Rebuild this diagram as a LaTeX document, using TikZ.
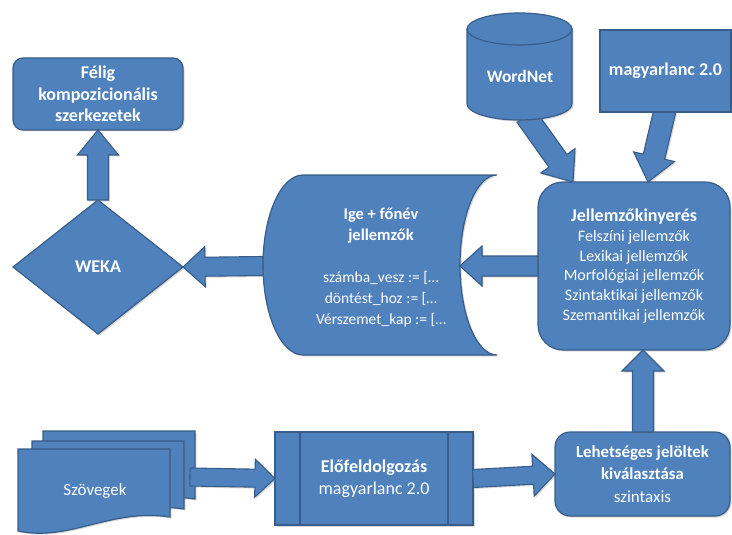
\documentclass[tikz,border=0pt]{standalone}
\usepackage{fontspec}
\setmainfont{Carlito}[Ligatures=NoCommon]
\usetikzlibrary{shapes.geometric,shadows,calc}
\definecolor{fillblue}{HTML}{4F81BD}
\definecolor{lineblue}{HTML}{385D8A}
\tikzset{
  shp/.style={fill=fillblue, draw=lineblue, line width=1.2pt,
    drop shadow={opacity=0.3, shadow xshift=1.5pt, shadow yshift=-1.5pt}},
  blk/.style={fill=fillblue, draw=lineblue, line width=1.1pt,
    drop shadow={opacity=0.3, shadow xshift=1.5pt, shadow yshift=-1.5pt}},
  txt/.style={text=white, align=center, font=\fontsize{15}{20}\selectfont},
  boxnode/.style={shp, txt, inner sep=0pt, outer sep=0pt},
}
\newcommand\fs[2]{\fontsize{#1}{#2}\selectfont}
\newcommand\barrow[5]{%
  \coordinate (bH) at ($(#2)!#5pt!(#1)$);
  \filldraw[blk] ($(#1)!#3pt!90:(#2)$) -- ($(bH)!#3pt!90:(#2)$) -- ($(bH)!#4pt!90:(#2)$)
    -- (#2) -- ($(bH)!#4pt!-90:(#2)$) -- ($(bH)!#3pt!-90:(#2)$) -- ($(#1)!#3pt!-90:(#2)$) -- cycle;
}
\begin{document}
\begin{tikzpicture}[x=1pt,y=-1pt]
\useasboundingbox (0,0) rectangle (732,535);

% ---------- named anchor coordinates ----------
\coordinate (igeL) at (263,266);
\coordinate (igeR) at (460,266);
\coordinate (wnB) at (526,116);
\coordinate (magB) at (665,110);
\coordinate (jelTA) at (573,182);
\coordinate (jelTB) at (648,182);
\coordinate (jelS) at (643,350);
\coordinate (lehN) at (643,432);
\coordinate (szovE) at (190,477);

% ---------- arrows (drawn first, shapes on top) ----------
\barrow{wnB}{jelTA}{11}{21}{26}
\barrow{magB}{jelTB}{11}{21}{26}

% ---------- shapes ----------
\node[boxnode, rounded corners=10pt, minimum width=170pt, minimum height=72pt, font=\fs{18}{21.5}\bfseries]
  (felig) at (98,94) {Félig\\kompozicionális\\szerkezetek};

\node[boxnode, diamond, minimum width=170pt, minimum height=134pt, font=\fs{18}{20}\bfseries]
  (weka) at (98,267) {WEKA};

% Ige + fonev (stored data shape)
\filldraw[shp] (303,175) -- (497,175)
  .. controls (476.6,175) and (460,215.3) .. (460,265)
  .. controls (460,314.7) and (476.6,355) .. (497,355)
  -- (303,355)
  .. controls (280.9,355) and (263,314.7) .. (263,265)
  .. controls (263,215.3) and (280.9,175) .. (303,175) -- cycle;
\node[txt, font=\fs{15.5}{21}] (ige) at (381,268)
  {{\fs{16.5}{21}\bfseries Ige + főnév}\\{\fs{16.5}{21}\bfseries jellemzők}\\[21pt]számba\_vesz := [\dots\\döntést\_hoz := [\dots\\Vérszemet\_kap := [\dots};

\node[boxnode, rounded corners=25pt, minimum width=192pt, minimum height=168pt, font=\fs{16}{19.7}]
  (jel) at (634,266) {{\fs{18}{19.7}\bfseries Jellemzőkinyerés}\\Felszíni jellemzők\\Lexikai jellemzők\\Morfológiai jellemzők\\Szintaktikai jellemzők\\Szemantikai jellemzők};

% WordNet cylinder
\filldraw[shp] (467,29) -- (467,104)
  .. controls (467,112.8) and (490.5,120) .. (519.5,120)
  .. controls (548.5,120) and (572,112.8) .. (572,104)
  -- (572,29)
  .. controls (572,20.2) and (548.5,13) .. (519.5,13)
  .. controls (490.5,13) and (467,20.2) .. (467,29) -- cycle;
\draw[draw=lineblue, line width=1.2pt] (467,29)
  .. controls (467,37.8) and (490.5,45) .. (519.5,45)
  .. controls (548.5,45) and (572,37.8) .. (572,29);
\node[txt, font=\fs{17.5}{20}\bfseries] (wordnet) at (520,76) {WordNet};

\node[boxnode, minimum width=131pt, minimum height=82pt, font=\fs{18}{20}\bfseries]
  (mag) at (665.5,71) {magyarlanc 2.0};

% Szovegek multidocument
\foreach \dx/\dy in {43/431, 32/441, 18/449}{
  \filldraw[shp] (\dx,\dy) -- ++(152,0) -- ++(0,68)
    .. controls ++(-60,-9) and ++(52,11) .. ++(-152,14) -- cycle;
}
\node[txt, font=\fs{17}{20}] (szov) at (95,491) {Szövegek};

% Elofeldolgozas (predefined process)
\node[boxnode, minimum width=198pt, minimum height=93pt, font=\fs{18}{22}]
  (elo) at (374,478.5) {\textbf{Előfeldolgozás}\\magyarlanc 2.0};
\draw[draw=lineblue, line width=1.2pt] ($(elo.north west)+(25,0)$) -- ($(elo.south west)+(25,0)$);
\draw[draw=lineblue, line width=1.2pt] ($(elo.north east)+(-25,0)$) -- ($(elo.south east)+(-25,0)$);

\node[boxnode, rounded corners=15pt, minimum width=175pt, minimum height=84pt, font=\fs{17}{22.5}]
  (leh) at (642.5,474) {{\fs{16.8}{22.5}\bfseries Lehetséges jelöltek}\\{\fs{16.8}{22.5}\bfseries kiválasztása}\\szintaxis};

% ---------- remaining arrows ----------
\barrow{weka.north}{felig.south}{10.5}{20.5}{25}
\barrow{igeL}{weka.east}{9.5}{20}{22}
\barrow{jel.west}{igeR}{10}{20}{22}
\barrow{lehN}{jelS}{10.5}{21}{21}
\barrow{szovE}{elo.west}{9}{19}{20}
\barrow{elo.east}{leh.west}{9}{21}{22}
\end{tikzpicture}
\end{document}
